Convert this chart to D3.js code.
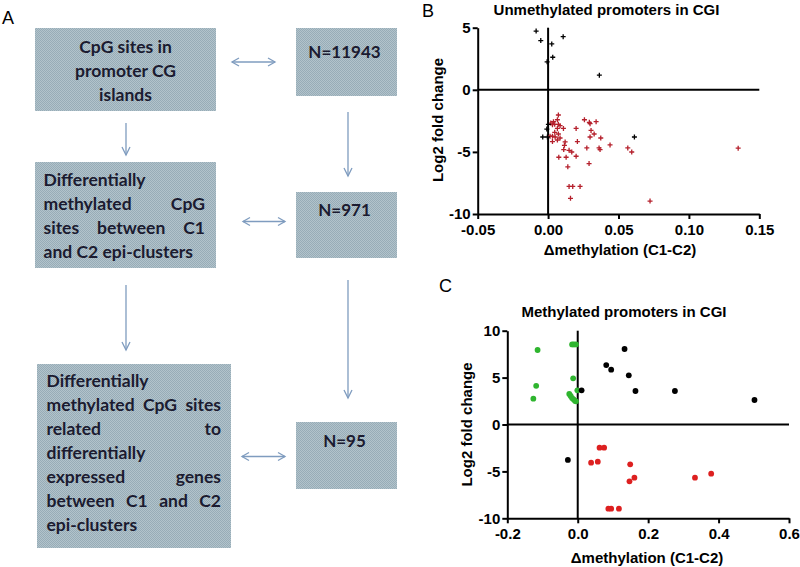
<!DOCTYPE html>
<html>
<head>
<meta charset="utf-8">
<script src="https://cdn.jsdelivr.net/npm/d3@7"></script>
<style>
  body { margin: 0; background: #fff; }
  svg { display: block; }
  .axis path, .axis line { stroke: #000; stroke-width: 2; }
  .axis text { font-family: "Liberation Sans", Arial, sans-serif; font-weight: bold; font-size: 15px; fill: #000; }
</style>
</head>
<body>
<svg id="fig" width="800" height="567"></svg>
<script>
// ---------- panel A : flow chart text ----------
const boxLeftText = [
  [["CpG sites in"], ["promoter CG"], ["islands"]],
  [["Differentially"], ["methylated", "CpG"], ["sites", "between", "C1"], ["and C2 epi-clusters"]],
  [["Differentially"], ["methylated", "CpG", "sites"], ["related", "to"], ["differentially"],
   ["expressed", "genes"], ["between", "C1", "and", "C2"], ["epi-clusters"]]
];
const boxCounts = ["N=11943", "N=971", "N=95"];

// ---------- panel B : unmethylated promoters ----------
const unmethBlack = [
  [-0.0085, 4.73], [-0.0052, 3.96], [0.0107, 4.28], [0.0026, 3.69], [0.0033, 2.62],
  [-0.0007, 2.25], [0.0364, 1.18], [0.0002, -2.78], [-0.0009, -3.16], [-0.0005, -3.80],
  [-0.0038, -3.80], [0.0613, -3.80]
];
const unmethRed = [
  [0.0073, -2.03], [0.0066, -2.41], [0.0038, -2.57], [0.0019, -2.68], [0.0031, -2.81],
  [0.0047, -2.78], [0.0073, -2.78], [0.0085, -2.89], [0.0066, -3.11], [0.0109, -3.11],
  [0.0047, -3.42], [0.0073, -3.56], [0.0014, -3.74], [0.0031, -3.74], [0.0050, -3.80],
  [0.0085, -3.88], [0.0066, -4.04], [0.0031, -4.17], [0.0121, -4.20], [0.0116, -4.47],
  [0.0208, -4.17], [0.0199, -3.11], [0.0258, -2.41], [0.0293, -2.62], [0.0298, -2.73],
  [0.0341, -2.57], [0.0305, -3.27], [0.0327, -3.56], [0.0298, -3.80], [0.0374, -3.88],
  [0.0440, -4.44], [0.0362, -4.68], [0.0369, -4.81], [0.0275, -4.68], [0.0111, -4.81],
  [0.0149, -4.87], [0.0168, -5.01], [0.0076, -5.43], [0.0128, -5.43], [0.0199, -5.35],
  [0.0140, -6.20], [0.0291, -5.94], [0.0566, -4.68], [0.0594, -5.01], [0.0149, -7.78],
  [0.0175, -7.78], [0.0227, -7.78], [0.0159, -8.74], [0.0724, -8.96], [0.1350, -4.70]
];
const unmethXTicks = [-0.05, 0.00, 0.05, 0.10, 0.15];
const unmethYTicks = [5, 0, -5, -10];

// ---------- panel C : methylated promoters ----------
const methGreen = [
  [-0.114, 7.94], [-0.118, 4.12], [-0.126, 2.75], [-0.016, 8.54], [-0.011, 8.54],
  [-0.005, 8.54], [-0.013, 4.92], [-0.001, 3.64], [-0.024, 3.25], [-0.020, 3.04],
  [-0.016, 2.82], [-0.012, 2.68], [-0.008, 2.54], [-0.005, 2.47]
];
const methBlack = [
  [0.011, 3.64], [0.081, 6.34], [0.095, 5.84], [0.133, 8.05], [0.145, 5.24],
  [0.164, 3.57], [0.276, 3.57], [0.502, 2.61], [-0.028, -3.78]
];
const methRed = [
  [0.062, -2.47], [0.075, -2.47], [0.038, -4.07], [0.057, -3.96], [0.149, -4.25],
  [0.147, -6.06], [0.161, -5.67], [0.333, -5.67], [0.379, -5.24], [0.087, -8.97],
  [0.095, -8.97], [0.117, -8.97]
];
const methXTicks = [-0.2, 0.0, 0.2, 0.4, 0.6];
const methYTicks = [10, 5, 0, -5, -10];

const svg = d3.select("#fig");
svg.append("rect").attr("width", 800).attr("height", 567).attr("fill", "#fff");

// hatched fill like the scanned boxes
const defs = svg.append("defs");
const pat = defs.append("pattern").attr("id", "hatch")
  .attr("width", 2).attr("height", 2).attr("patternUnits", "userSpaceOnUse");
pat.append("rect").attr("width", 2).attr("height", 2).attr("fill", "#b2c3cb");
pat.append("rect").attr("width", 1).attr("height", 1).attr("fill", "#97acb7");
pat.append("rect").attr("x", 1).attr("y", 1).attr("width", 1).attr("height", 1).attr("fill", "#97acb7");

const boxFont = "Lato, 'Open Sans', sans-serif";
const textCol = "#1b1b30";
const arrowCol = "#7f9cbf";

// ==================================================================
// PANEL A
// ==================================================================
svg.append("text").attr("x", 2).attr("y", 24)
  .style("font-family", "'Liberation Sans', Arial, sans-serif").style("font-size", "18px")
  .text("A");

const leftBoxes = [
  {x: 35, y: 28, w: 181, h: 83, tx0: 45, tx1: 206, y0: 52.5, center: true},
  {x: 35, y: 162, w: 181, h: 106, tx0: 43.5, tx1: 205, y0: 186, center: false},
  {x: 37, y: 364, w: 194, h: 184, tx0: 46.5, tx1: 221, y0: 387, center: false}
];
const rightBoxes = [
  {x: 296, y: 28, w: 101, h: 68, ty: 58},
  {x: 296, y: 192, w: 101, h: 66, ty: 216},
  {x: 296, y: 422, w: 101, h: 67, ty: 447}
];
const lineGap = 24;

leftBoxes.forEach((b, i) => {
  svg.append("rect").attr("x", b.x).attr("y", b.y).attr("width", b.w).attr("height", b.h)
    .attr("fill", "url(#hatch)");
  const g = svg.append("g")
    .style("font-family", boxFont).style("font-weight", "bold").style("font-size", "17.5px")
    .attr("fill", textCol);
  boxLeftText[i].forEach((words, li) => {
    const yy = b.y0 + li * lineGap;
    if (b.center) {
      g.append("text").attr("x", b.x + b.w / 2).attr("y", yy)
        .attr("text-anchor", "middle").text(words.join(" "));
      return;
    }
    if (words.length === 1) {
      g.append("text").attr("x", b.tx0).attr("y", yy).text(words[0]);
      return;
    }
    // justified line
    const nodes = words.map(w => g.append("text").attr("y", yy).text(w));
    const widths = nodes.map(n => n.node().getComputedTextLength());
    const gap = (b.tx1 - b.tx0 - d3.sum(widths)) / (words.length - 1);
    let cx = b.tx0;
    nodes.forEach((n, k) => { n.attr("x", cx); cx += widths[k] + gap; });
  });
});

rightBoxes.forEach((b, i) => {
  svg.append("rect").attr("x", b.x).attr("y", b.y).attr("width", b.w).attr("height", b.h)
    .attr("fill", "url(#hatch)");
  svg.append("text").attr("x", b.x + b.w / 2 - 2).attr("y", b.ty)
    .attr("text-anchor", "middle")
    .style("font-family", boxFont).style("font-weight", "bold").style("font-size", "17px")
    .attr("fill", textCol).text(boxCounts[i]);
});

const arrows = svg.append("g").attr("stroke", arrowCol).attr("stroke-width", 1.3).attr("fill", "none");
function hArrow(x1, x2, y) {
  arrows.append("path").attr("d", `M${x1},${y}H${x2}`);
  arrows.append("path").attr("d", `M${x1 + 7},${y - 4}L${x1},${y}L${x1 + 7},${y + 4}`);
  arrows.append("path").attr("d", `M${x2 - 7},${y - 4}L${x2},${y}L${x2 - 7},${y + 4}`);
}
function vArrow(x, y1, y2) {
  arrows.append("path").attr("d", `M${x},${y1}V${y2}`);
  arrows.append("path").attr("d", `M${x - 4},${y2 - 8}L${x},${y2}L${x + 4},${y2 - 8}`);
}
hArrow(232, 275, 62);
hArrow(243, 285, 221.5);
hArrow(242, 285, 456.5);
vArrow(126, 123, 155);
vArrow(126, 285, 350);
vArrow(348, 112, 176);
vArrow(348, 280, 398);

// ==================================================================
// scatter panel helper
// ==================================================================
function scatter(opt) {
  const x = d3.scaleLinear().domain(opt.xDomain).range(opt.xRange);
  const y = d3.scaleLinear().domain(opt.yDomain).range(opt.yRange);
  const g = svg.append("g");

  g.append("g").attr("class", "axis")
    .attr("transform", `translate(0,${opt.yRange[0]})`)
    .call(d3.axisBottom(x).tickValues(opt.xTicks).tickFormat(opt.xFmt)
      .tickSize(5).tickSizeOuter(0).tickPadding(5));
  g.append("g").attr("class", "axis")
    .attr("transform", `translate(${opt.xRange[0]},0)`)
    .call(d3.axisLeft(y).tickValues(opt.yTicks).tickFormat(d => String(d))
      .tickSize(5).tickSizeOuter(0).tickPadding(2));

  // zero lines
  g.append("line").attr("x1", x(opt.xDomain[0])).attr("x2", x(opt.xDomain[1]))
    .attr("y1", y(0)).attr("y2", y(0)).attr("stroke", "#000").attr("stroke-width", 2);
  g.append("line").attr("x1", x(0)).attr("x2", x(0))
    .attr("y1", y(opt.yDomain[1])).attr("y2", y(opt.yDomain[0]))
    .attr("stroke", "#000").attr("stroke-width", 2);

  opt.series.forEach(s => {
    if (s.shape === "plus") {
      g.append("g").selectAll("path").data(s.data).enter().append("path")
        .attr("transform", d => `translate(${x(d[0])},${y(d[1])})`)
        .attr("d", "M-2.5,0H2.5M0,-2.5V2.5")
        .attr("stroke", s.color).attr("stroke-width", 1.3);
    } else {
      g.append("g").selectAll("circle").data(s.data).enter().append("circle")
        .attr("cx", d => x(d[0])).attr("cy", d => y(d[1])).attr("r", 2.9)
        .attr("fill", s.color);
    }
  });

  const lab = g.append("g").style("font-family", "'Liberation Sans', Arial, sans-serif")
    .style("font-weight", "bold").attr("fill", "#000");
  lab.append("text").attr("x", opt.titleX).attr("y", opt.titleY).attr("text-anchor", "middle")
    .style("font-size", "15px").text(opt.title);
  lab.append("text").attr("x", opt.xLabX).attr("y", opt.xLabY).attr("text-anchor", "middle")
    .style("font-size", "15px").text("\u0394methylation (C1-C2)");
  lab.append("text").attr("transform", `translate(${opt.yLabX},${opt.yLabY}) rotate(-90)`)
    .attr("text-anchor", "middle").style("font-size", "15px").text("Log2 fold change");
  g.append("text").attr("x", opt.letterX).attr("y", opt.letterY)
    .style("font-family", "'Liberation Sans', Arial, sans-serif").style("font-size", "18px")
    .text(opt.letter);
}

scatter({
  xDomain: [-0.05, 0.15], xRange: [477.7, 759.3],
  yDomain: [-10, 5], yRange: [214, 27.7],
  xTicks: unmethXTicks, yTicks: unmethYTicks, xFmt: d => d.toFixed(2),
  series: [
    {data: unmethRed, color: "#b5202c", shape: "plus"},
    {data: unmethBlack, color: "#000", shape: "plus"}
  ],
  title: "Unmethylated promoters in CGI", titleX: 606.5, titleY: 14.5,
  xLabX: 620, xLabY: 255, yLabX: 443, yLabY: 120,
  letter: "B", letterX: 422, letterY: 17
});

scatter({
  xDomain: [-0.2, 0.6], xRange: [507.3, 789],
  yDomain: [-10, 10], yRange: [518.3, 330.7],
  xTicks: methXTicks, yTicks: methYTicks, xFmt: d => d.toFixed(1),
  series: [
    {data: methGreen, color: "#2fb52f", shape: "dot"},
    {data: methRed, color: "#dd2020", shape: "dot"},
    {data: methBlack, color: "#000", shape: "dot"}
  ],
  title: "Methylated promoters in CGI", titleX: 624, titleY: 317,
  xLabX: 647, xLabY: 563, yLabX: 472, yLabY: 424.5,
  letter: "C", letterX: 439, letterY: 292
});
</script>
</body>
</html>
